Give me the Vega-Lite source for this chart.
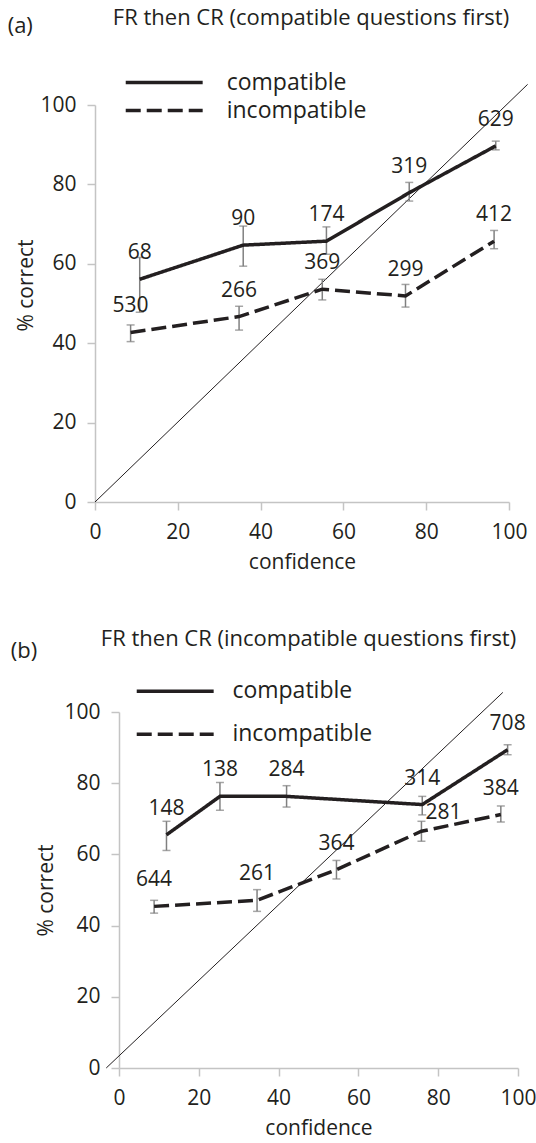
{
  "$schema": "https://vega.github.io/schema/vega-lite/v6.json",
  "background": "white",
  "padding": {"left": 7, "top": 7, "right": 0, "bottom": 5},
  "bounds": "flush",
  "spacing": 210,
  "config": {
    "view": {"stroke": null},
    "font": "Open Sans",
    "title": {"font": "Open Sans", "fontSize": 22, "fontWeight": "normal", "color": "#231f20", "anchor": "middle", "frame": "group"},
    "axis": {
      "grid": false, "domainColor": "#c4c4c4", "domainWidth": 1.5, "tickColor": "#c4c4c4", "tickWidth": 1.5, "tickSize": 8,
      "labelFont": "Open Sans", "labelFontSize": 21, "labelColor": "#231f20", "labelFlush": false, "labelOverlap": false,
      "titleFont": "Open Sans", "titleFontSize": 21, "titleFontWeight": "normal", "titleColor": "#231f20"
    },
    "legend": {
      "orient": "none", "title": null, "symbolType": "M-4,0H4", "symbolSize": 370, "symbolStrokeWidth": 3.5,
      "symbolStrokeColor": "#231f20", "symbolFillColor": "transparent", "symbolOffset": 27,
      "labelFont": "Open Sans", "labelFontSize": 23, "labelColor": "#231f20", "padding": 0
    }
  },
  "datasets": {
    "pts": [
      {"panel": "a", "series": "compatible", "conf": 10.8, "pct": 56.1, "lo": 47.8, "hi": 61.6, "n": 68},
      {"panel": "a", "series": "compatible", "conf": 35.8, "pct": 64.7, "lo": 59.4, "hi": 69.5, "n": 90},
      {"panel": "a", "series": "compatible", "conf": 55.9, "pct": 65.7, "lo": 62.4, "hi": 69.3, "n": 174},
      {"panel": "a", "series": "compatible", "conf": 75.9, "pct": 77.9, "lo": 75.8, "hi": 80.5, "n": 319},
      {"panel": "a", "series": "compatible", "conf": 96.8, "pct": 89.7, "lo": 88.7, "hi": 90.9, "n": 629},
      {"panel": "a", "series": "incompatible", "conf": 8.6, "pct": 42.7, "lo": 40.4, "hi": 44.6, "n": 530},
      {"panel": "a", "series": "incompatible", "conf": 34.8, "pct": 46.7, "lo": 43.3, "hi": 49.3, "n": 266},
      {"panel": "a", "series": "incompatible", "conf": 54.9, "pct": 53.6, "lo": 50.9, "hi": 56.1, "n": 369},
      {"panel": "a", "series": "incompatible", "conf": 75.0, "pct": 51.9, "lo": 49.1, "hi": 54.8, "n": 299},
      {"panel": "a", "series": "incompatible", "conf": 96.4, "pct": 65.7, "lo": 63.8, "hi": 68.4, "n": 412},
      {"panel": "b", "series": "compatible", "conf": 11.9, "pct": 65.5, "lo": 61.1, "hi": 69.3, "n": 148},
      {"panel": "b", "series": "compatible", "conf": 25.3, "pct": 76.3, "lo": 72.4, "hi": 80.2, "n": 138},
      {"panel": "b", "series": "compatible", "conf": 42.0, "pct": 76.3, "lo": 73.3, "hi": 79.3, "n": 284},
      {"panel": "b", "series": "compatible", "conf": 76.0, "pct": 74.0, "lo": 71.1, "hi": 76.3, "n": 314},
      {"panel": "b", "series": "compatible", "conf": 97.4, "pct": 89.4, "lo": 88.0, "hi": 90.8, "n": 708},
      {"panel": "b", "series": "incompatible", "conf": 8.8, "pct": 45.4, "lo": 43.5, "hi": 47.1, "n": 644},
      {"panel": "b", "series": "incompatible", "conf": 34.6, "pct": 47.1, "lo": 44.0, "hi": 50.1, "n": 261},
      {"panel": "b", "series": "incompatible", "conf": 54.5, "pct": 55.7, "lo": 53.1, "hi": 58.3, "n": 364},
      {"panel": "b", "series": "incompatible", "conf": 75.8, "pct": 66.5, "lo": 63.7, "hi": 69.3, "n": 281},
      {"panel": "b", "series": "incompatible", "conf": 95.7, "pct": 71.2, "lo": 69.1, "hi": 73.6, "n": 384}
    ],
    "diag": [
      {"panel": "a", "conf": 0, "pct": 0},
      {"panel": "a", "conf": 104.5, "pct": 105.2},
      {"panel": "b", "conf": -3.2, "pct": 0},
      {"panel": "b", "conf": 96.2, "pct": 105.5}
    ],
    "tags": [
      {"panel": "a", "tag": "(a)"},
      {"panel": "b", "tag": "(b)"}
    ]
  },
  "resolve": {"scale": {"strokeDash": "independent"}, "legend": {"strokeDash": "independent"}},
  "vconcat": [
    {
      "width": 414,
      "height": 397,
      "title": {"text": "FR then CR (compatible questions first)", "dx": 9, "offset": -15},
      "layer": [
        {
          "data": {"name": "diag"},
          "transform": [{"filter": "datum.panel === 'a'"}],
          "mark": {"type": "line", "color": "#231f20", "strokeWidth": 1},
          "encoding": {
            "x": {"field": "conf", "type": "quantitative", "title": "confidence", "scale": {"domain": [0, 100], "nice": false}, "axis": {"values": [0, 20, 40, 60, 80, 100], "labelPadding": 11, "titlePadding": 9}},
            "y": {"field": "pct", "type": "quantitative", "title": "% correct", "scale": {"domain": [0, 100], "nice": false}, "axis": {"values": [0, 20, 40, 60, 80, 100], "labelPadding": 11, "titlePadding": 3, "titleY": 180}}
          }
        },
        {
          "data": {"name": "pts"},
          "transform": [{"filter": "datum.panel === 'a'"}],
          "mark": {"type": "rule", "color": "#808080", "strokeWidth": 1.5},
          "encoding": {
            "x": {"field": "conf", "type": "quantitative", "title": "confidence", "scale": {"domain": [0, 100], "nice": false}},
            "y": {"field": "lo", "type": "quantitative", "title": "% correct", "scale": {"domain": [0, 100], "nice": false}},
            "y2": {"field": "hi"}
          }
        },
        {
          "data": {"name": "pts"},
          "transform": [{"filter": "datum.panel === 'a'"}],
          "mark": {"type": "tick", "orient": "horizontal", "color": "#808080", "size": 8, "thickness": 1.5},
          "encoding": {
            "x": {"field": "conf", "type": "quantitative", "title": "confidence", "scale": {"domain": [0, 100], "nice": false}},
            "y": {"field": "lo", "type": "quantitative", "title": "% correct", "scale": {"domain": [0, 100], "nice": false}}
          }
        },
        {
          "data": {"name": "pts"},
          "transform": [{"filter": "datum.panel === 'a'"}],
          "mark": {"type": "tick", "orient": "horizontal", "color": "#808080", "size": 8, "thickness": 1.5},
          "encoding": {
            "x": {"field": "conf", "type": "quantitative", "title": "confidence", "scale": {"domain": [0, 100], "nice": false}},
            "y": {"field": "hi", "type": "quantitative", "title": "% correct", "scale": {"domain": [0, 100], "nice": false}}
          }
        },
        {
          "data": {"name": "pts"},
          "transform": [{"filter": "datum.panel === 'a'"}],
          "mark": {"type": "line", "color": "#231f20", "strokeWidth": 3.5, "strokeCap": "butt"},
          "encoding": {
            "x": {"field": "conf", "type": "quantitative", "title": "confidence", "scale": {"domain": [0, 100], "nice": false}},
            "y": {"field": "pct", "type": "quantitative", "title": "% correct", "scale": {"domain": [0, 100], "nice": false}},
            "strokeDash": {
              "field": "series", "type": "nominal",
              "scale": {"domain": ["compatible", "incompatible"], "range": [[1, 0], [15, 6]]},
              "legend": {"legendX": 30.7, "legendY": -34, "labelOffset": 51, "rowPadding": 4}
            }
          }
        },
        {
          "data": {"name": "pts"},
          "transform": [{"filter": "datum.panel === 'a'"}],
          "mark": {"type": "text", "font": "Open Sans", "fontSize": 21, "color": "#231f20", "align": "center", "baseline": "middle", "dy": -26},
          "encoding": {
            "x": {"field": "conf", "type": "quantitative", "title": "confidence", "scale": {"domain": [0, 100], "nice": false}},
            "y": {"field": "pct", "type": "quantitative", "title": "% correct", "scale": {"domain": [0, 100], "nice": false}},
            "text": {"field": "n", "type": "nominal"}
          }
        },
        {
          "data": {"name": "tags"},
          "transform": [{"filter": "datum.panel === 'a'"}],
          "mark": {"type": "text", "font": "Open Sans", "fontSize": 22, "color": "#231f20", "align": "left", "baseline": "alphabetic"},
          "encoding": {
            "x": {"datum": -21.1, "type": "quantitative", "scale": {"domain": [0, 100], "nice": false}},
            "y": {"datum": 118.1, "type": "quantitative", "scale": {"domain": [0, 100], "nice": false}},
            "text": {"field": "tag", "type": "nominal"}
          }
        }
      ]
    },
    {
      "width": 423,
      "height": 356,
      "title": {"text": "FR then CR (incompatible questions first)", "dx": 2, "offset": -11},
      "layer": [
        {
          "data": {"name": "diag"},
          "transform": [{"filter": "datum.panel === 'b'"}],
          "mark": {"type": "line", "color": "#231f20", "strokeWidth": 1},
          "encoding": {
            "x": {"field": "conf", "type": "quantitative", "title": "confidence", "scale": {"domain": [0, 100], "nice": false, "range": [24, 423]}, "axis": {"values": [0, 20, 40, 60, 80, 100], "labelPadding": 11, "titlePadding": 9}},
            "y": {"field": "pct", "type": "quantitative", "title": "% correct", "scale": {"domain": [0, 100], "nice": false}, "axis": {"values": [0, 20, 40, 60, 80, 100], "labelPadding": 11, "titlePadding": 7, "offset": -24}}
          }
        },
        {
          "data": {"name": "pts"},
          "transform": [{"filter": "datum.panel === 'b'"}],
          "mark": {"type": "rule", "color": "#808080", "strokeWidth": 1.5},
          "encoding": {
            "x": {"field": "conf", "type": "quantitative", "title": "confidence", "scale": {"domain": [0, 100], "nice": false, "range": [24, 423]}},
            "y": {"field": "lo", "type": "quantitative", "title": "% correct", "scale": {"domain": [0, 100], "nice": false}},
            "y2": {"field": "hi"}
          }
        },
        {
          "data": {"name": "pts"},
          "transform": [{"filter": "datum.panel === 'b'"}],
          "mark": {"type": "tick", "orient": "horizontal", "color": "#808080", "size": 8, "thickness": 1.5},
          "encoding": {
            "x": {"field": "conf", "type": "quantitative", "title": "confidence", "scale": {"domain": [0, 100], "nice": false, "range": [24, 423]}},
            "y": {"field": "lo", "type": "quantitative", "title": "% correct", "scale": {"domain": [0, 100], "nice": false}}
          }
        },
        {
          "data": {"name": "pts"},
          "transform": [{"filter": "datum.panel === 'b'"}],
          "mark": {"type": "tick", "orient": "horizontal", "color": "#808080", "size": 8, "thickness": 1.5},
          "encoding": {
            "x": {"field": "conf", "type": "quantitative", "title": "confidence", "scale": {"domain": [0, 100], "nice": false, "range": [24, 423]}},
            "y": {"field": "hi", "type": "quantitative", "title": "% correct", "scale": {"domain": [0, 100], "nice": false}}
          }
        },
        {
          "data": {"name": "pts"},
          "transform": [{"filter": "datum.panel === 'b'"}],
          "mark": {"type": "line", "color": "#231f20", "strokeWidth": 3.5, "strokeCap": "butt"},
          "encoding": {
            "x": {"field": "conf", "type": "quantitative", "title": "confidence", "scale": {"domain": [0, 100], "nice": false, "range": [24, 423]}},
            "y": {"field": "pct", "type": "quantitative", "title": "% correct", "scale": {"domain": [0, 100], "nice": false}},
            "strokeDash": {
              "field": "series", "type": "nominal",
              "scale": {"domain": ["compatible", "incompatible"], "range": [[1, 0], [15, 6]]},
              "legend": {"legendX": 41.7, "legendY": -32.3, "labelOffset": 45.7, "rowPadding": 19}
            }
          }
        },
        {
          "data": {"name": "pts"},
          "transform": [{"filter": "datum.panel === 'b' && datum.n !== 281"}],
          "mark": {"type": "text", "font": "Open Sans", "fontSize": 21, "color": "#231f20", "align": "center", "baseline": "middle", "dy": -26},
          "encoding": {
            "x": {"field": "conf", "type": "quantitative", "title": "confidence", "scale": {"domain": [0, 100], "nice": false, "range": [24, 423]}},
            "y": {"field": "pct", "type": "quantitative", "title": "% correct", "scale": {"domain": [0, 100], "nice": false}},
            "text": {"field": "n", "type": "nominal"}
          }
        },
        {
          "data": {"name": "pts"},
          "transform": [{"filter": "datum.panel === 'b' && datum.n === 281"}],
          "mark": {"type": "text", "font": "Open Sans", "fontSize": 21, "color": "#231f20", "align": "center", "baseline": "middle", "dx": 22, "dy": -18},
          "encoding": {
            "x": {"field": "conf", "type": "quantitative", "title": "confidence", "scale": {"domain": [0, 100], "nice": false, "range": [24, 423]}},
            "y": {"field": "pct", "type": "quantitative", "title": "% correct", "scale": {"domain": [0, 100], "nice": false}},
            "text": {"field": "n", "type": "nominal"}
          }
        },
        {
          "data": {"name": "tags"},
          "transform": [{"filter": "datum.panel === 'b'"}],
          "mark": {"type": "text", "font": "Open Sans", "fontSize": 22, "color": "#231f20", "align": "left", "baseline": "alphabetic"},
          "encoding": {
            "x": {"datum": -27.1, "type": "quantitative", "scale": {"domain": [0, 100], "nice": false, "range": [24, 423]}},
            "y": {"datum": 115.3, "type": "quantitative", "scale": {"domain": [0, 100], "nice": false}},
            "text": {"field": "tag", "type": "nominal"}
          }
        }
      ]
    }
  ]
}
